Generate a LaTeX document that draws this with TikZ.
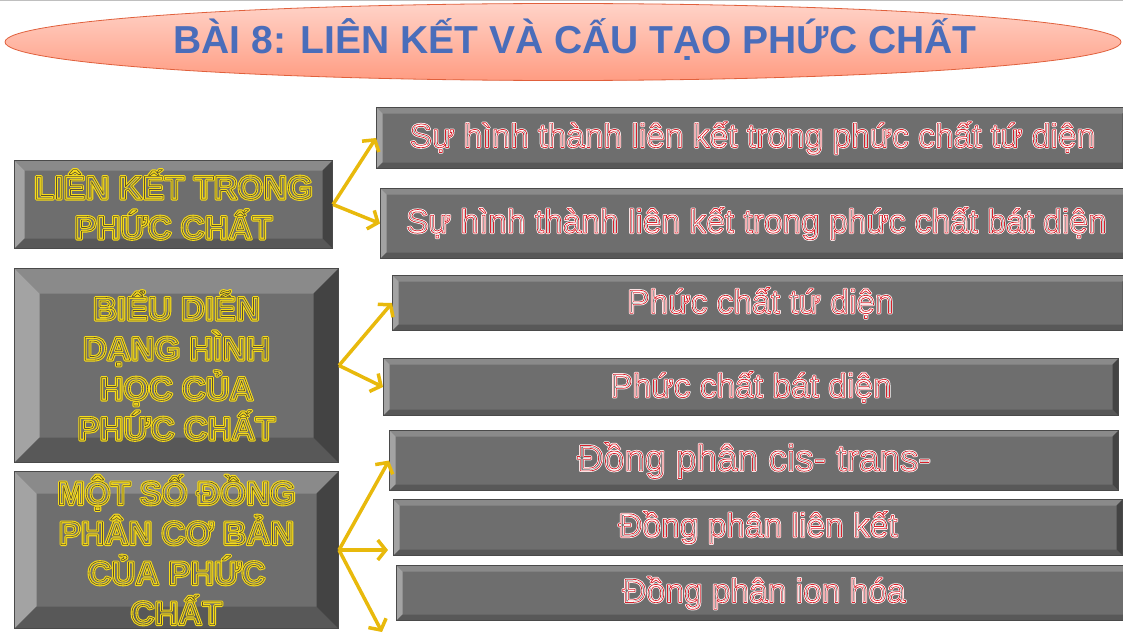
\documentclass[tikz,border=0pt]{standalone}
\usepackage{fontspec}
\setmainfont{Liberation Sans}
\usetikzlibrary{arrows.meta,shapes.geometric,calc}

\definecolor{facegrey}{HTML}{6E6E6E}
\definecolor{edgegrey}{HTML}{4A4A4A}
\definecolor{bevtopc}{HTML}{8A8A8A}
\definecolor{bevleftc}{HTML}{A3A3A3}
\definecolor{bevbotc}{HTML}{585858}
\definecolor{bevrightc}{HTML}{434343}
\definecolor{arrowyellow}{HTML}{E8B90C}
\definecolor{lettyellow}{HTML}{F7DC1A}
\definecolor{lettdark}{HTML}{5A5030}
\definecolor{lettred}{HTML}{D8202A}
\definecolor{titleblue}{HTML}{4A6DBA}
\definecolor{bannertop}{HTML}{FFD3C8}
\definecolor{bannerbot}{HTML}{FF9C82}
\definecolor{banneredge}{HTML}{E0603C}

% hollow letters: thick outer stroke, thin inner stroke
\newcommand\strokeit[5]{%
  \leavevmode\rlap{\color{#1}\special{pdf:literal direct 1 Tr #3 w 1 j}#5}%
  {\color{#2}\special{pdf:literal direct 1 Tr #4 w 1 j}#5}%
  \special{pdf:literal direct 0 Tr}}
\newcommand\yellowtxt[1]{\strokeit{lettyellow}{lettdark}{2.8}{0.6}{#1}}
\newcommand\redtxt[1]{\strokeit{white}{lettred}{2.2}{0.7}{#1}}

\begin{document}
\begin{tikzpicture}[x=1pt,y=-1pt]
    \tikzset{
        bevelbox/.style={/utils/exec={\def\bevw{#1}}, rectangle, inner sep=0pt,
            anchor=north west, fill=facegrey, draw=edgegrey, line width=1pt,
            path picture={
                \path (path picture bounding box.north west) coordinate (bnw)
                      (path picture bounding box.north east) coordinate (bne)
                      (path picture bounding box.south west) coordinate (bsw)
                      (path picture bounding box.south east) coordinate (bse);
                \fill[bevtopc] (bnw) -- (bne) -- ($(bne)+(-\bevw,-\bevw)$) -- ($(bnw)+(\bevw,-\bevw)$) -- cycle;
                \fill[bevleftc] (bnw) -- (bsw) -- ($(bsw)+(\bevw,\bevw)$) -- ($(bnw)+(\bevw,-\bevw)$) -- cycle;
                \fill[bevbotc] (bsw) -- (bse) -- ($(bse)+(-\bevw,\bevw)$) -- ($(bsw)+(\bevw,\bevw)$) -- cycle;
                \fill[bevrightc] (bne) -- (bse) -- ($(bse)+(-\bevw,\bevw)$) -- ($(bne)+(-\bevw,-\bevw)$) -- cycle;
            }},
        leftbox/.style={bevelbox=#1, align=center,
            font=\bfseries\fontsize{33}{40}\selectfont},
        rightbox/.style={bevelbox=6pt, font=\fontsize{33.5}{38}\selectfont},
        yarrow/.style={draw=arrowyellow, line width=3.5pt,
            -{Straight Barb[length=8pt,width=20pt]}},
    }
    \useasboundingbox (0,0) rectangle (1123,642);
    \draw[black!25, line width=1.5pt] (0,0.75) -- (1123,0.75);

    % title
    \node[ellipse, minimum width=1116, minimum height=77, draw=banneredge, line width=0.8pt,
          top color=bannertop, bottom color=bannerbot] (banner) at (563,42) {};
    \node[text=titleblue, font=\bfseries\fontsize{39}{40}\selectfont] (title) at (575,40)
        {BÀI 8: LIÊN KẾT VÀ CẤU TẠO PHỨC CHẤT};

    % left column
    \node[leftbox=10pt, minimum width=318, minimum height=88] (bond) at (14,160)
        {\yellowtxt{LIÊN KẾT TRONG}\\\yellowtxt{PHỨC CHẤT}};
    \node[leftbox=25pt, minimum width=324, minimum height=194] (shape) at (14,268)
        {\yellowtxt{BIỂU DIỄN}\\\yellowtxt{DẠNG HÌNH}\\\yellowtxt{HỌC CỦA}\\\yellowtxt{PHỨC CHẤT}};
    \node[leftbox=22pt, minimum width=324, minimum height=157] (isomer) at (14,471)
        {\yellowtxt{MỘT SỐ ĐỒNG}\\\yellowtxt{PHÂN CƠ BẢN}\\\yellowtxt{CỦA PHỨC}\\\yellowtxt{CHẤT}};

    % right column
    \node[rightbox, minimum width=752, minimum height=61] (tetra) at (376,107)
        {\redtxt{Sự hình thành liên kết trong phức chất tứ diện}};
    \node[rightbox, minimum width=752, minimum height=70] (octa) at (380,188)
        {\redtxt{Sự hình thành liên kết trong phức chất bát diện}};
    \node[rightbox, minimum width=736, minimum height=55] (tetrashape) at (392,275)
        {\redtxt{Phức chất tứ diện}};
    \node[rightbox, minimum width=735, minimum height=57] (octashape) at (383,358)
        {\redtxt{Phức chất bát diện}};
    \node[rightbox, minimum width=729, minimum height=60, font=\fontsize{37}{40}\selectfont] (cistrans) at (389,430)
        {\redtxt{Đồng phân cis- trans-}};
    \node[rightbox, minimum width=729, minimum height=56] (linkage) at (393,499)
        {\redtxt{Đồng phân liên kết}};
    \node[rightbox, minimum width=735, minimum height=55] (ionisation) at (396,565)
        {\redtxt{Đồng phân ion hóa}};

    % arrows
    \coordinate (linkagetip) at (388,550);
    \coordinate (iontip) at (382,632);
    \draw[yarrow] (bond.east) -- (tetra.west);
    \draw[yarrow] (bond.east) -- (octa.west);
    \draw[yarrow] (shape.east) -- (tetrashape.west);
    \draw[yarrow] (shape.east) -- (octashape.west);
    \draw[yarrow] (isomer.east) -- (cistrans.west);
    \draw[yarrow] (isomer.east) -- (linkagetip);
    \draw[yarrow] (isomer.east) -- (iontip);
\end{tikzpicture}
\end{document}
